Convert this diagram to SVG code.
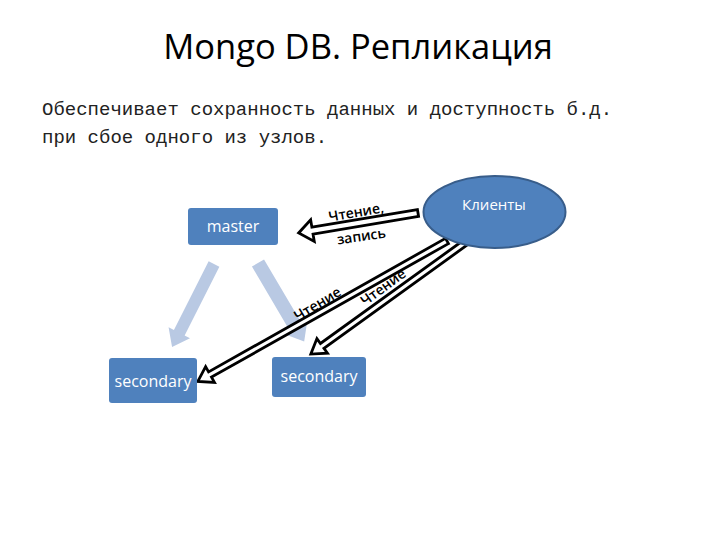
<svg xmlns="http://www.w3.org/2000/svg" width="720" height="540" viewBox="0 0 720 540">
<style>
.title{font-family:"Open Sans","Liberation Sans",sans-serif;font-size:34.5px;fill:#000}
.body{font-family:"Liberation Mono","DejaVu Sans Mono",monospace;font-size:19px;fill:#222}
.node{fill:#4F81BD}
.ntext{font-family:"Open Sans","Liberation Sans",sans-serif;font-size:16px;fill:#fff;text-anchor:middle}
.light{fill:#B9C9E3;stroke:none}
.block{fill:#fff;stroke:#000;stroke-width:2.8;stroke-linejoin:miter}
.lbl{font-family:"Open Sans","Liberation Sans",sans-serif;font-size:14px;font-weight:600;fill:#000;text-anchor:middle}
</style>
<rect width="720" height="540" fill="#fff"/>
<text class="title" x="358" y="59" text-anchor="middle">Mongo DB. Репликация</text>
<text class="body" x="42" y="115">Обеспечивает сохранность данных и доступность б.д.</text>
<text class="body" x="42" y="143">при сбое одного из узлов.</text>

<g id="connectors">
  <!-- light replication arrows master -> secondaries -->
  <g transform="translate(214,264) rotate(116.8)">
    <polygon class="light" points="0,-6 77,-6 77,-12 93,0 77,12 77,6 0,6"/>
  </g>
  <g transform="translate(258,263) rotate(59.5)">
    <polygon class="light" points="0,-7 75,-7 75,-13 91,0 75,13 75,7 0,7"/>
  </g>
  <!-- clients -> master -->
  <g transform="translate(418,213) rotate(170.5)">
    <polygon class="block" points="0,-3.5 107,-3.5 107,-11 121,0 107,11 107,3.5 0,3.5"/>
  </g>
  <!-- clients -> left secondary -->
  <g transform="translate(447,241) rotate(150.6)">
    <polygon class="block" points="0,-3 272,-3 272,-9 286,0 272,9 272,3 0,3"/>
  </g>
  <!-- clients -> right secondary -->
  <g transform="translate(469,240) rotate(144.2)">
    <polygon class="block" points="0,-3 181,-3 181,-9 195,0 181,9 181,3 0,3"/>
  </g>
  <text class="lbl" transform="translate(357,217) rotate(-10)">Чтение,</text>
  <text class="lbl" transform="translate(362,241) rotate(-8)">запись</text>
  <text class="lbl" transform="translate(320,308) rotate(-31)">Чтение</text>
  <text class="lbl" transform="translate(386,291) rotate(-36)">Чтение</text>
</g>

<g id="master">
  <rect class="node" x="188" y="208" width="90" height="37" rx="3"/>
  <text class="ntext" x="233" y="232">master</text>
</g>
<g id="secondary-left">
  <rect class="node" x="109" y="358" width="88" height="45" rx="3"/>
  <text class="ntext" x="153" y="387">secondary</text>
</g>
<g id="secondary-right">
  <rect class="node" x="272" y="357" width="94" height="40" rx="3"/>
  <text class="ntext" x="319" y="382">secondary</text>
</g>
<g id="clients">
  <ellipse class="node" cx="494.5" cy="212" rx="71" ry="36" stroke="#385D8A" stroke-width="2"/>
  <text class="ntext" x="494" y="210" style="font-size:15px">Клиенты</text>
</g>
</svg>
